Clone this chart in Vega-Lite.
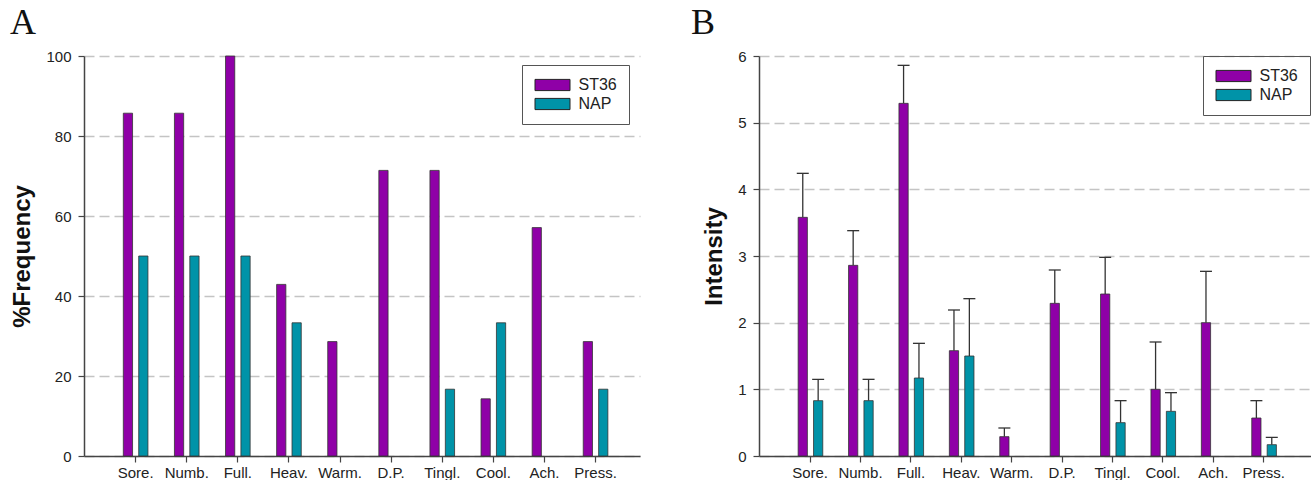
{
  "$schema": "https://vega.github.io/schema/vega-lite/v6.json",
  "background": "white",
  "padding": {"left": 10, "top": 5, "right": 0, "bottom": 0},
  "resolve": {"scale": {"color": "independent"}, "legend": {"color": "independent"}},
  "config": {
    "font": "Liberation Sans",
    "view": {"stroke": null},
    "concat": {"spacing": 51},
    "axis": {
      "labelFont": "Liberation Sans",
      "labelFontSize": 15,
      "labelColor": "#222222",
      "domainColor": "#444444",
      "domainWidth": 1.5,
      "tickColor": "#444444",
      "tickWidth": 1.2,
      "tickSize": 6,
      "titleFont": "Liberation Sans",
      "titleFontSize": 24,
      "titleFontWeight": "bold",
      "titleColor": "#111111"
    },
    "axisX": {"grid": false, "labelAngle": 0, "labelPadding": 3, "title": null},
    "axisY": {"grid": true, "gridDash": [10, 5], "gridColor": "#c4c4c4", "gridWidth": 1.5, "labelPadding": 7, "titlePadding": 11, "format": "d"},
    "legend": {
      "title": null,
      "strokeColor": "#555555",
      "strokeWidth": 1,
      "padding": 12,
      "labelFont": "Liberation Sans",
      "labelFontSize": 16,
      "labelColor": "#222222",
      "labelOffset": 18,
      "symbolType": "M-2.5,-0.8L2.5,-0.8L2.5,0.8L-2.5,0.8Z",
      "symbolSize": 196,
      "symbolOffset": 10.5,
      "symbolStrokeColor": "#222222",
      "symbolStrokeWidth": 1,
      "symbolOpacity": 1,
      "rowPadding": 3
    },
    "title": {"font": "Liberation Serif", "fontSize": 36, "fontWeight": "normal", "anchor": "start", "frame": "group", "color": "#111111", "baseline": "alphabetic"}
  },
  "datasets": {
    "freq": [
      {"symptom": "Sore.", "group": "ST36", "value": 85.7},
      {"symptom": "Sore.", "group": "NAP", "value": 50},
      {"symptom": "Numb.", "group": "ST36", "value": 85.7},
      {"symptom": "Numb.", "group": "NAP", "value": 50},
      {"symptom": "Full.", "group": "ST36", "value": 100},
      {"symptom": "Full.", "group": "NAP", "value": 50},
      {"symptom": "Heav.", "group": "ST36", "value": 42.9},
      {"symptom": "Heav.", "group": "NAP", "value": 33.3},
      {"symptom": "Warm.", "group": "ST36", "value": 28.6},
      {"symptom": "Warm.", "group": "NAP", "value": 0},
      {"symptom": "D.P.", "group": "ST36", "value": 71.4},
      {"symptom": "D.P.", "group": "NAP", "value": 0},
      {"symptom": "Tingl.", "group": "ST36", "value": 71.4},
      {"symptom": "Tingl.", "group": "NAP", "value": 16.7},
      {"symptom": "Cool.", "group": "ST36", "value": 14.3},
      {"symptom": "Cool.", "group": "NAP", "value": 33.3},
      {"symptom": "Ach.", "group": "ST36", "value": 57.1},
      {"symptom": "Ach.", "group": "NAP", "value": 0},
      {"symptom": "Press.", "group": "ST36", "value": 28.6},
      {"symptom": "Press.", "group": "NAP", "value": 16.7}
    ],
    "intensity": [
      {"symptom": "Sore.", "group": "ST36", "mean": 3.58, "upper": 4.24},
      {"symptom": "Sore.", "group": "NAP", "mean": 0.83, "upper": 1.15},
      {"symptom": "Numb.", "group": "ST36", "mean": 2.86, "upper": 3.38},
      {"symptom": "Numb.", "group": "NAP", "mean": 0.83, "upper": 1.15},
      {"symptom": "Full.", "group": "ST36", "mean": 5.29, "upper": 5.86},
      {"symptom": "Full.", "group": "NAP", "mean": 1.17, "upper": 1.69},
      {"symptom": "Heav.", "group": "ST36", "mean": 1.58, "upper": 2.19},
      {"symptom": "Heav.", "group": "NAP", "mean": 1.5, "upper": 2.36},
      {"symptom": "Warm.", "group": "ST36", "mean": 0.29, "upper": 0.42},
      {"symptom": "Warm.", "group": "NAP", "mean": 0, "upper": null},
      {"symptom": "D.P.", "group": "ST36", "mean": 2.29, "upper": 2.79},
      {"symptom": "D.P.", "group": "NAP", "mean": 0, "upper": null},
      {"symptom": "Tingl.", "group": "ST36", "mean": 2.43, "upper": 2.98},
      {"symptom": "Tingl.", "group": "NAP", "mean": 0.5, "upper": 0.83},
      {"symptom": "Cool.", "group": "ST36", "mean": 1.0, "upper": 1.71},
      {"symptom": "Cool.", "group": "NAP", "mean": 0.67, "upper": 0.95},
      {"symptom": "Ach.", "group": "ST36", "mean": 2.0, "upper": 2.77},
      {"symptom": "Ach.", "group": "NAP", "mean": 0, "upper": null},
      {"symptom": "Press.", "group": "ST36", "mean": 0.57, "upper": 0.83},
      {"symptom": "Press.", "group": "NAP", "mean": 0.17, "upper": 0.28}
    ]
  },
  "hconcat": [
    {
      "title": {"text": "A", "dx": -74, "offset": 7},
      "width": 556,
      "height": 400,
      "data": {"name": "freq"},
      "transform": [{"filter": "datum.value > 0"}],
      "mark": {"type": "bar", "stroke": "#333333", "strokeWidth": 0.8},
      "encoding": {
        "x": {
          "field": "symptom", "type": "nominal",
          "sort": ["Sore.", "Numb.", "Full.", "Heav.", "Warm.", "D.P.", "Tingl.", "Cool.", "Ach.", "Press."],
          "scale": {"paddingInner": 0, "paddingOuter": 0.44, "align": 0.58},
          "axis": {"title": null}
        },
        "xOffset": {"field": "group", "type": "nominal", "sort": ["ST36", "NAP"], "scale": {"paddingInner": 0.4, "paddingOuter": 0.86}},
        "y": {
          "field": "value", "type": "quantitative",
          "scale": {"domain": [0, 100], "nice": false},
          "axis": {"title": "%Frequency", "values": [0, 20, 40, 60, 80, 100]}
        },
        "color": {
          "field": "group", "type": "nominal",
          "scale": {"domain": ["ST36", "NAP"], "range": ["#8f00a7", "#0093a8"]},
          "legend": {"orient": "none", "legendX": 438, "legendY": 9}
        }
      }
    },
    {
      "title": {"text": "B", "dx": -68, "offset": 7},
      "width": 552,
      "height": 400,
      "data": {"name": "intensity"},
      "encoding": {
        "x": {
          "field": "symptom", "type": "nominal",
          "sort": ["Sore.", "Numb.", "Full.", "Heav.", "Warm.", "D.P.", "Tingl.", "Cool.", "Ach.", "Press."],
          "scale": {"paddingInner": 0, "paddingOuter": 0.476, "align": 0.54},
          "axis": {"title": null}
        },
        "xOffset": {"field": "group", "type": "nominal", "sort": ["ST36", "NAP"], "scale": {"paddingInner": 0.4, "paddingOuter": 0.88}}
      },
      "layer": [
        {
          "transform": [{"filter": "datum.upper != null"}],
          "mark": {"type": "rule", "color": "#333333", "strokeWidth": 1.3},
          "encoding": {
            "y": {"field": "mean", "type": "quantitative"},
            "y2": {"field": "upper"}
          }
        },
        {
          "transform": [{"filter": "datum.upper != null"}],
          "mark": {"type": "tick", "color": "#333333", "thickness": 1.3, "opacity": 1},
          "encoding": {
            "y": {"field": "upper", "type": "quantitative"},
            "size": {"value": 12}
          }
        },
        {
          "transform": [{"filter": "datum.mean > 0"}],
          "mark": {"type": "bar", "stroke": "#333333", "strokeWidth": 0.8},
          "encoding": {
            "y": {
              "field": "mean", "type": "quantitative",
              "scale": {"domain": [0, 6], "nice": false},
              "axis": {"title": "Intensity", "values": [0, 1, 2, 3, 4, 5, 6]}
            },
            "color": {
              "field": "group", "type": "nominal",
              "scale": {"domain": ["ST36", "NAP"], "range": ["#8f00a7", "#0093a8"]},
              "legend": {"orient": "none", "legendX": 444, "legendY": 0}
            }
          }
        }
      ]
    }
  ]
}
